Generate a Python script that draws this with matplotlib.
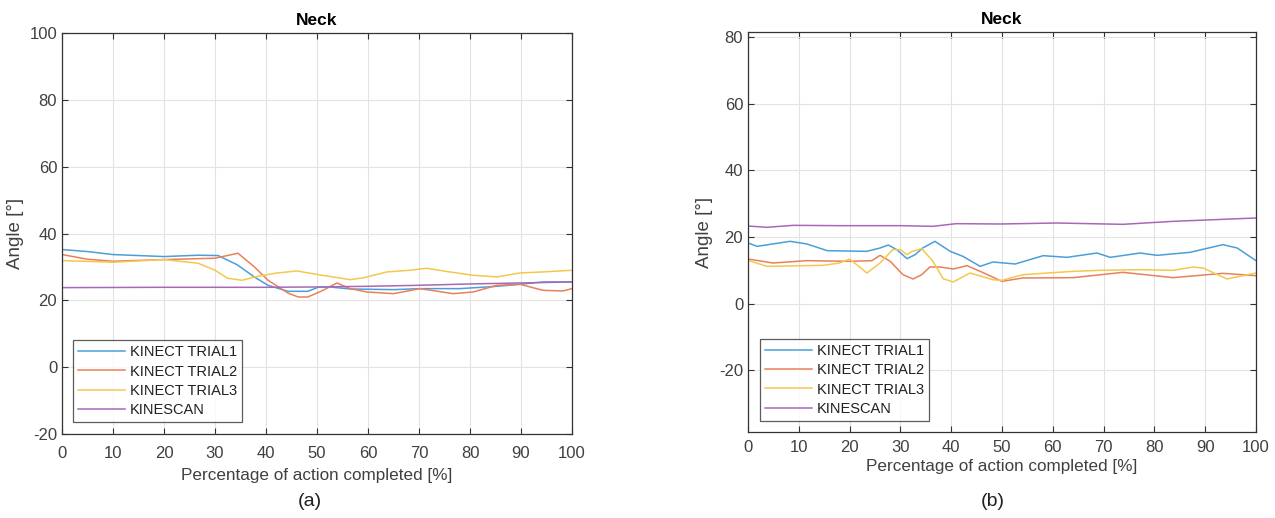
import matplotlib
matplotlib.use("Agg")
import matplotlib.pyplot as plt

plt.rcParams['font.family'] = ['Liberation Sans', 'DejaVu Sans']
plt.rcParams['axes.unicode_minus'] = False

# panel (a): neck angle
xa_t1 = [0, 5, 10, 15, 20, 26.7, 30.6, 34.3, 37.8, 40.4, 44.3, 48.2, 50.2, 52.5, 56.5, 65, 70.2, 78, 85.3, 89.8, 94.3, 100]
ya_t1 = [35.2, 34.6, 33.7, 33.4, 33.1, 33.5, 33.4, 30.7, 26.9, 24.5, 22.7, 22.7, 23.9, 24.0, 23.4, 23.2, 23.5, 23.5, 24.2, 24.8, 25.5, 25.5]
xa_t2 = [0, 5, 10, 20, 30, 34.5, 37.8, 40.4, 44.3, 46.3, 48.2, 51.2, 53.9, 56.5, 59.8, 65, 70.2, 76.7, 80.6, 85.3, 89.8, 94.3, 98.2, 100]
ya_t2 = [33.7, 32.3, 31.7, 32.2, 32.6, 34.1, 29.9, 26, 22.2, 21, 21, 23, 25.2, 23.5, 22.5, 22, 23.5, 22, 22.5, 24.5, 24.8, 23, 22.8, 23.5]
xa_t3 = [0, 10, 20, 26.7, 30, 32.5, 35.3, 37.8, 41.8, 46, 51, 56.5, 59, 63.7, 68.2, 71.5, 76, 80.6, 85.3, 89.8, 94.3, 100]
ya_t3 = [31.9, 31.4, 32.2, 31.1, 29, 26.6, 26, 27, 28.1, 28.8, 27.5, 26.2, 26.7, 28.5, 29, 29.6, 28.5, 27.5, 27, 28.2, 28.5, 29]
xa_ks = [0, 20, 40, 50, 60, 70, 80, 90, 100]
ya_ks = [23.8, 23.9, 23.9, 24.0, 24.2, 24.5, 24.9, 25.2, 25.5]

# panel (b)
xb_t1 = [0, 1.8, 8.3, 11.6, 15.6, 23.4, 26, 27.6, 29.3, 31.3, 32.9, 34.4, 36.8, 39.8, 42.3, 45.7, 48.2, 52.6,
         58.1, 62.8, 68.7, 71.3, 77.2, 80.5, 87, 93.5, 96.3, 100]
yb_t1 = [18.2, 17.2, 18.7, 17.9, 15.9, 15.7, 16.7, 17.6, 16.2, 13.5, 14.7, 16.7, 18.7, 15.7, 14.2, 11.2, 12.5, 11.9,
         14.4, 13.9, 15.2, 13.9, 15.2, 14.5, 15.4, 17.7, 16.7, 12.9]
xb_t2 = [0, 4.9, 11.6, 20, 24.4, 26, 28, 30.5, 32.5, 34.2, 35.8, 37.8, 40.4, 43.1, 45.7, 50, 54.1, 64, 73.8, 83.7, 93.5, 100]
yb_t2 = [13.4, 12.2, 12.9, 12.7, 12.9, 14.5, 12.7, 8.7, 7.4, 8.7, 11, 11, 10.4, 11.4, 9.7, 6.7, 7.7, 7.8, 9.4, 7.8, 9.1, 8.4]
xb_t3 = [0, 3.7, 14.8, 18, 20, 21.4, 23.4, 26, 28.5, 30, 31.3, 32.3, 34.2, 36.4, 38.4, 40.4, 43.7, 48.2, 50, 54.1,
         64, 69.3, 77.2, 83.7, 87.6, 89.6, 94.3, 100]
yb_t3 = [13, 11.2, 11.5, 12.2, 13.4, 11.7, 9.2, 12.2, 16.2, 16.2, 14.7, 15.7, 16.5, 12.7, 7.5, 6.5, 9.2, 7.2, 7, 8.7,
         9.7, 10, 10.2, 10, 11, 10.7, 7.4, 9.2]
xb_ks = [0, 3.7, 8.9, 18, 30, 36.4, 41, 49.6, 60.8, 73.8, 83.7, 100]
yb_ks = [23.3, 22.9, 23.5, 23.4, 23.4, 23.2, 24, 23.9, 24.2, 23.8, 24.7, 25.7]

labels = ['KINECT TRIAL1', 'KINECT TRIAL2', 'KINECT TRIAL3', 'KINESCAN']
colors = ['#4A9FDA', '#E8815A', '#F4C84E', '#A868B8']
ticks_x = list(range(0, 101, 10))
txt = '#404040'

fig = plt.figure(figsize=(12.75, 5.18), dpi=100)
ax_a = fig.add_axes([62 / 1275, 84 / 518, 510 / 1275, 401 / 518])
ax_b = fig.add_axes([748 / 1275, 86 / 518, 508 / 1275, 400 / 518])


def style(ax, ylim, yticks, xpad, xlpad, legpos):
    ax.set_xlim(0, 100)
    ax.set_ylim(*ylim)
    ax.set_xticks(ticks_x)
    ax.set_yticks(yticks)
    ax.grid(True, color='#e3e3e3', lw=0.8)
    ax.set_axisbelow(True)
    ax.tick_params(direction='in', top=True, right=True, length=4, width=0.8, color='#333333',
                   labelsize=12, labelcolor=txt)
    ax.tick_params(axis='x', pad=xpad)
    for s in ax.spines.values():
        s.set_color('#333333'); s.set_linewidth(0.9)
    ax.set_title('Neck', fontsize=12.5, fontweight='bold', pad=6)
    ax.set_xlabel('Percentage of action completed [%]', fontsize=12.3, color=txt, labelpad=xlpad)
    ax.set_ylabel('Angle [°]', fontsize=13.5, color=txt)
    leg = ax.legend(loc='lower left', fontsize=10.5, frameon=True, fancybox=False, handlelength=3.2,
                    handletextpad=0.3, borderpad=0.35, labelspacing=0.35, bbox_to_anchor=legpos)
    leg.get_frame().set_edgecolor('#333333'); leg.get_frame().set_linewidth(0.9)
    for t in leg.get_texts():
        t.set_color('#202020')


for xs, ys, c, l in zip([xa_t1, xa_t2, xa_t3, xa_ks], [ya_t1, ya_t2, ya_t3, ya_ks], colors, labels):
    ax_a.plot(xs, ys, color=c, lw=1.1, label=l)
style(ax_a, (-20, 100), range(-20, 101, 20), 9, 5, (0.008, 0.012))

for xs, ys, c, l in zip([xb_t1, xb_t2, xb_t3, xb_ks], [yb_t1, yb_t2, yb_t3, yb_ks], colors, labels):
    ax_b.plot(xs, ys, color=c, lw=1.1, label=l)
style(ax_b, (-38.5, 81.5), range(-20, 81, 20), 6, 3, (0.01, 0.01))

fig.text(310 / 1275, 1 - 501 / 518, '(a)', fontsize=14, ha='center', va='center', color='#202020')
fig.text(993 / 1275, 1 - 501 / 518, '(b)', fontsize=14, ha='center', va='center', color='#202020')

fig.savefig('out.png', dpi=100)
